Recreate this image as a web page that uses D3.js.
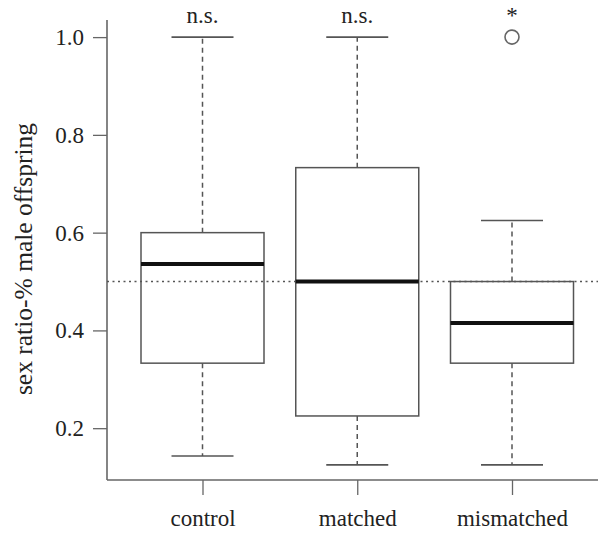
<!DOCTYPE html>
<html>
<head>
<meta charset="utf-8">
<script src="https://cdn.jsdelivr.net/npm/d3@7"></script>
<style>
	body { margin: 0; background: #fff; }
	svg text { font-family: "Liberation Serif", "Times New Roman", Times, "DejaVu Serif", serif; fill: #222; }
</style>
</head>
<body>
<div id="chart"></div>
<script>
// DATA
const groups = ["control", "matched", "mismatched"];
const whiskerLow = [0.143, 0.125, 0.125];
const q1 = [0.333, 0.225, 0.333];
const median = [0.536, 0.5, 0.415];
const q3 = [0.6, 0.733, 0.5];
const whiskerHigh = [1.0, 1.0, 0.625];
const outliers = [[], [], [1.0]];
const signif = ["n.s.", "n.s.", "*"];
const yTicks = [0.2, 0.4, 0.6, 0.8, 1.0];
const refLine = 0.5;


// SVG DIMENSIONS
const width = 598;
const height = 533;
const svg = d3.select("#chart")
	.append("svg")
	.attr("width", width)
	.attr("height", height);

const plotLeft = 107, plotRight = 598, plotTop = 20, plotBottom = 480;
const serif = '"Liberation Serif", "Times New Roman", Times, serif';

// SCALES
const y = d3.scaleLinear()
	.domain([0.094, 1.035])
	.range([plotBottom, plotTop]);
const x = d3.scalePoint()
	.domain(groups)
	.range([202.5, 512]);
const boxW = 123;
const capW = 62;

const axisColor = "#666";
const lineColor = "#555";

// Y AXIS
const yAxis = svg.append("g")
	.attr("transform", `translate(${plotLeft},0)`)
	.call(d3.axisLeft(y).tickValues(yTicks).tickFormat(d3.format(".1f")).tickSize(14).tickSizeOuter(0).tickPadding(9))
	.attr("font-family", serif)
	.attr("font-size", 23);
yAxis.select(".domain").remove();
yAxis.selectAll(".tick line").attr("stroke", axisColor).attr("stroke-width", 1.3);
yAxis.selectAll(".tick text").attr("fill", "#222");
svg.append("line")
	.attr("x1", plotLeft).attr("x2", plotLeft)
	.attr("y1", plotTop).attr("y2", plotBottom)
	.attr("stroke", axisColor).attr("stroke-width", 1.6);

// X AXIS
const xAxis = svg.append("g")
	.attr("transform", `translate(0,${plotBottom})`)
	.call(d3.axisBottom(x).tickSize(15).tickSizeOuter(0).tickPadding(15))
	.attr("font-family", serif)
	.attr("font-size", 23);
xAxis.select(".domain").remove();
xAxis.selectAll(".tick line").attr("stroke", axisColor).attr("stroke-width", 1.3);
xAxis.selectAll(".tick text").attr("fill", "#222");
svg.append("line")
	.attr("x1", plotLeft).attr("x2", plotRight)
	.attr("y1", plotBottom).attr("y2", plotBottom)
	.attr("stroke", axisColor).attr("stroke-width", 1.6);

// Y LABEL
svg.append("text")
	.attr("transform", `translate(32,${259}) rotate(-90)`)
	.attr("text-anchor", "middle")
	.attr("font-family", serif)
	.attr("font-size", 25.5)
	.text("sex ratio-% male offspring");

// REFERENCE LINE
svg.append("line")
	.attr("x1", plotLeft).attr("x2", plotRight)
	.attr("y1", y(refLine)).attr("y2", y(refLine))
	.attr("stroke", lineColor)
	.attr("stroke-width", 1.4)
	.attr("stroke-dasharray", "2,3.5");

// BOXES
const data = groups.map((g, i) => ({
	g, lo: whiskerLow[i], q1: q1[i], med: median[i], q3: q3[i], hi: whiskerHigh[i],
	out: outliers[i], sig: signif[i]
}));

const box = svg.append("g")
	.selectAll("g")
	.data(data)
	.enter()
	.append("g");

// whiskers
box.append("line")
	.attr("x1", d => x(d.g)).attr("x2", d => x(d.g))
	.attr("y1", d => y(d.q3)).attr("y2", d => y(d.hi))
	.attr("stroke", lineColor).attr("stroke-width", 1.5)
	.attr("stroke-dasharray", "5,4");
box.append("line")
	.attr("x1", d => x(d.g)).attr("x2", d => x(d.g))
	.attr("y1", d => y(d.q1)).attr("y2", d => y(d.lo))
	.attr("stroke", lineColor).attr("stroke-width", 1.5)
	.attr("stroke-dasharray", "5,4");
// caps
box.append("line")
	.attr("x1", d => x(d.g) - capW / 2).attr("x2", d => x(d.g) + capW / 2)
	.attr("y1", d => y(d.hi)).attr("y2", d => y(d.hi))
	.attr("stroke", lineColor).attr("stroke-width", 1.6);
box.append("line")
	.attr("x1", d => x(d.g) - capW / 2).attr("x2", d => x(d.g) + capW / 2)
	.attr("y1", d => y(d.lo)).attr("y2", d => y(d.lo))
	.attr("stroke", lineColor).attr("stroke-width", 1.6);
// box
box.append("rect")
	.attr("x", d => x(d.g) - boxW / 2)
	.attr("width", boxW)
	.attr("y", d => y(d.q3))
	.attr("height", d => y(d.q1) - y(d.q3))
	.attr("fill", "none")
	.attr("stroke", lineColor).attr("stroke-width", 1.5);
// median
box.append("line")
	.attr("x1", d => x(d.g) - boxW / 2).attr("x2", d => x(d.g) + boxW / 2)
	.attr("y1", d => y(d.med)).attr("y2", d => y(d.med))
	.attr("stroke", "#111").attr("stroke-width", 4);
// outliers
box.selectAll("circle")
	.data(d => d.out.map(v => ({ g: d.g, v })))
	.enter()
	.append("circle")
	.attr("cx", d => x(d.g))
	.attr("cy", d => y(d.v))
	.attr("r", 7)
	.attr("fill", "none")
	.attr("stroke", axisColor).attr("stroke-width", 1.6);
// significance
box.append("text")
	.attr("x", d => x(d.g))
	.attr("y", 23)
	.attr("text-anchor", "middle")
	.attr("font-family", serif)
	.attr("font-size", 23)
	.text(d => d.sig);
</script>
</body>
</html>
